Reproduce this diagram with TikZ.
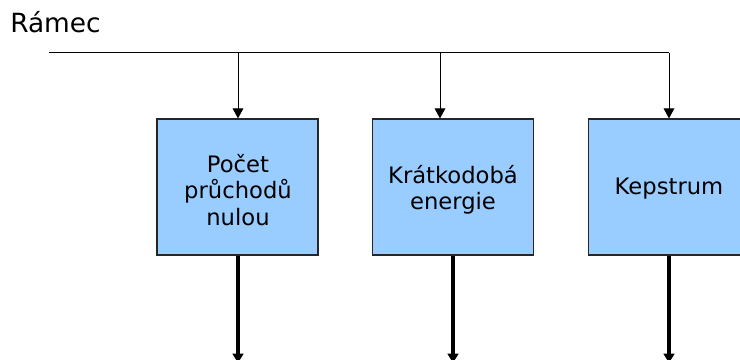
\documentclass[tikz,border=0pt]{standalone}
\usepackage{fontspec}
\setmainfont{DejaVu Sans}
\usetikzlibrary{arrows.meta}
\definecolor{boxblue}{HTML}{99CCFF}
\begin{document}
\begin{tikzpicture}[x=0.75pt,y=-0.75pt,
  blockbox/.style={draw=black!85, line width=0.9pt, fill=boxblue,
    minimum width=120.75pt, minimum height=102pt, inner sep=0pt},
  blocktext/.style={inner sep=0pt, align=center,
    font=\fontsize{17}{19.6}\selectfont},
  thinarrow/.style={draw=black, line width=0.75pt,
    -{Triangle[width=8pt,length=7.5pt]}},
  thickarrow/.style={draw=black, line width=2.4pt,
    -{Triangle[width=8pt,length=7pt]}}]
\clip (0,0) rectangle (740,360);
\fill[white] (0,0) rectangle (740,360);
\node[anchor=base west, inner sep=0pt, font=\fontsize{19.8}{23}\selectfont] (title) at (10,33) {Rámec};
\node[blockbox] (b1) at (237.5,187) {};
\node[blockbox] (b2) at (453,187) {};
\node[blockbox] (b3) at (669,187) {};
\node[blocktext] (l1) at (238,190) {Počet\\průchodů\\nulou};
\node[blocktext] (l2) at (453,190) {Krátkodobá\\energie};
\node[blocktext] (l3) at (669,189) {Kepstrum};
\coordinate (s) at (49,53);
\coordinate (t1) at (238,53);
\coordinate (t2) at (440,53);
\coordinate (t3) at (669,53);
\draw[line width=0.75pt] (s) -- (t3);
\draw[thinarrow] (t1) -- (t1 |- b1.north);
\draw[thinarrow] (t2) -- (t2 |- b2.north);
\draw[thinarrow] (t3) -- (t3 |- b3.north);
\coordinate (e1) at (238,363);
\coordinate (e2) at (453,363);
\coordinate (e3) at (669,363);
\draw[thickarrow] (e1 |- b1.south) -- (e1);
\draw[thickarrow] (e2 |- b2.south) -- (e2);
\draw[thickarrow] (e3 |- b3.south) -- (e3);
\end{tikzpicture}
\end{document}
